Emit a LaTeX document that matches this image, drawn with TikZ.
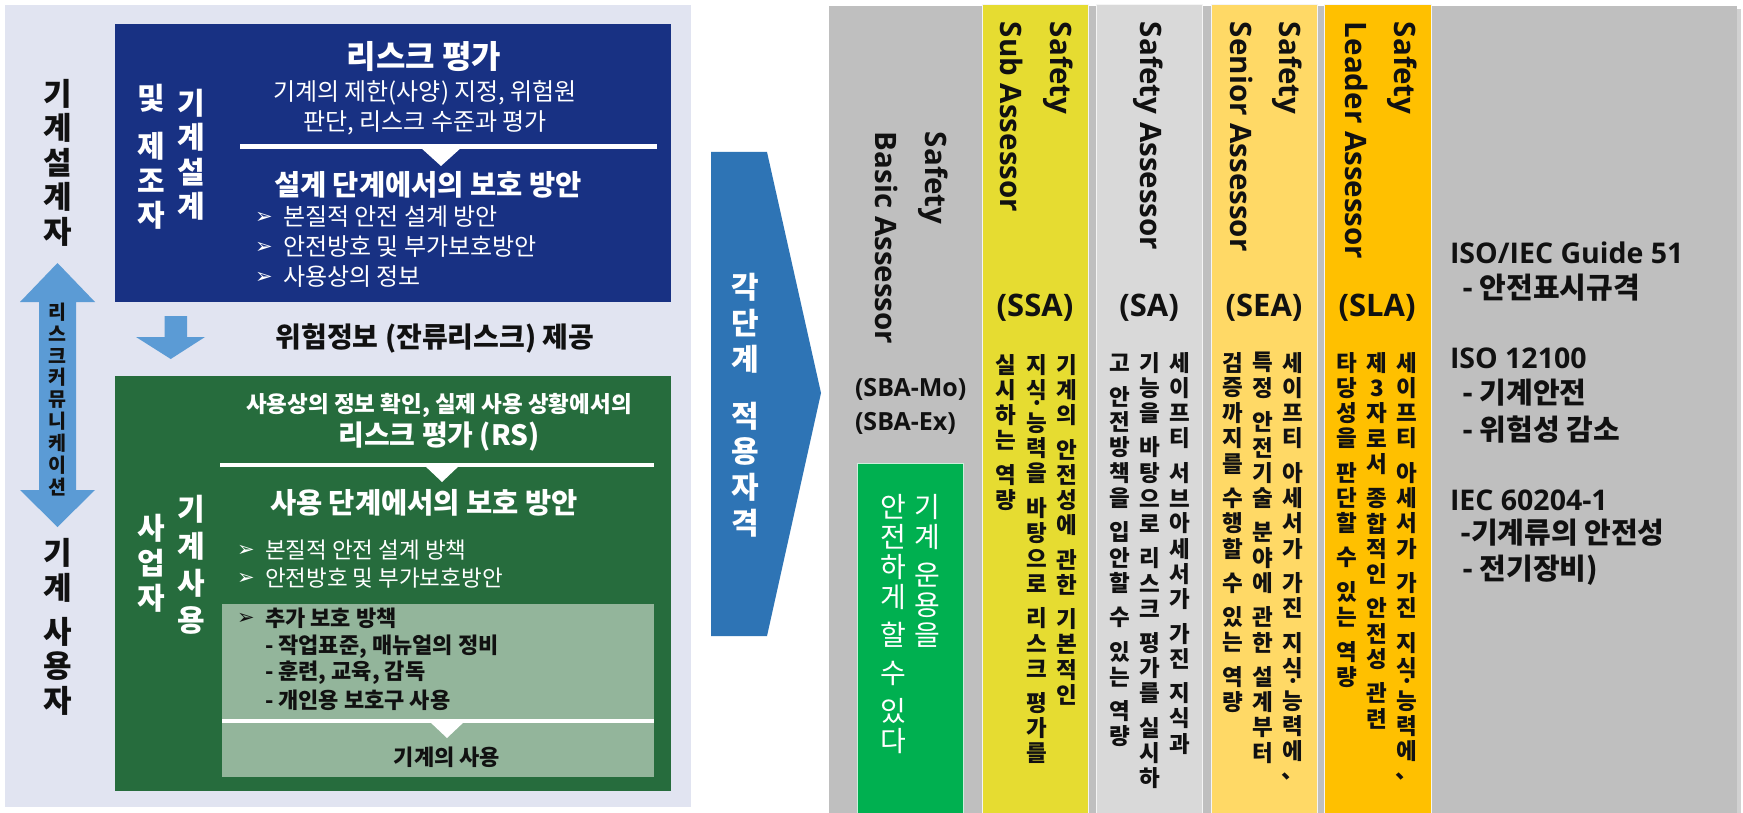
\documentclass[tikz,border=0pt]{standalone}
\usepackage{fontspec}
\setmainfont{Noto Sans CJK KR}
\newfontfamily\os{Open Sans}
\newfontfamily\dv{DejaVu Sans}
\newcommand\fs[1]{\fontsize{#1}{#1}\selectfont}
\definecolor{lav}{HTML}{E1E4F1}
\definecolor{navy}{HTML}{183183}
\definecolor{dgreen}{HTML}{266C3D}
\definecolor{lgreen}{HTML}{93B59B}
\definecolor{ablue}{HTML}{5B9BD5}
\definecolor{chev}{HTML}{2E74B5}
\definecolor{panel}{HTML}{BFBFBF}
\definecolor{cssa}{HTML}{E6DC31}
\definecolor{csa}{HTML}{D9D9D9}
\definecolor{csea}{HTML}{FFD966}
\definecolor{csla}{HTML}{FFC000}
\definecolor{csba}{HTML}{00B050}
\definecolor{ink}{HTML}{111111}
\ExplSyntaxOn
\NewDocumentCommand \vcol { m m m }
  {
    \vbox:n
      {
        \offinterlineskip
        \tl_map_inline:nn {#3}
          {
            \str_case:nnF {##1}
              {
                { | } { \skip_vertical:n {#2} }
                { · } { \hbox_to_wd:nn {1em} { \hss \vbox_to_ht:nn { #1 * 3 / 10 } { \vss \hbox:n {##1} \vss } \hss } }
              }
              { \hbox_to_wd:nn {1em} { \hss \vbox_to_ht:nn {#1} { \vss \hbox:n {##1} \vss } \hss } }
          }
      }
  }
\ExplSyntaxOff
\begin{document}
\begin{tikzpicture}[x=1pt,y=-1pt,
  rect/.style={inner sep=0, outer sep=0, anchor=north west},
  t/.style={inner sep=0, outer sep=0, text=ink},
  wt/.style={inner sep=0, outer sep=0, text=white},
  vt/.style={inner sep=0, outer sep=0, text=ink, rotate=-90, anchor=west, font=\os\bfseries\fs{29.5}},
  code/.style={inner sep=0, outer sep=0, text=ink, font=\os\bfseries\fs{31}},
  colx/.style={inner sep=0, outer sep=0, text=ink, anchor=north, font=\bfseries\fs{22.5}},
  bul/.style={inner sep=0, outer sep=0, font=\dv\fs{21}},
  std/.style={inner sep=0, outer sep=0, text=ink, anchor=west},
  column/.style={rect, draw=white!85!panel, line width=1pt, minimum width=106, minimum height=808}
]
\fill[white] (0,0) rectangle (1743,813);
\useasboundingbox (0,0) rectangle (1743,813);

% ---------- left panel ----------
\fill[lav] (5,5) rectangle (691,807);
\node[rect, fill=navy, minimum width=556, minimum height=278] (design) at (115,24) {};
\node[rect, fill=dgreen, minimum width=556, minimum height=415] (use) at (115,376) {};
\node[rect, fill=lgreen, minimum width=432, minimum height=173] (extra) at (222,604) {};

% separators
\draw[white, line width=5pt] (240,147) -- (657,147);
\fill[white] (420,147) -- (462,147) -- (441,166) -- cycle;
\draw[white, line width=4pt] (220,465) -- (654,465);
\fill[white] (424,465) -- (460,465) -- (442,482) -- cycle;
\draw[white, line width=4pt] (222,721) -- (654,721);
\fill[white] (429,721) -- (465,721) -- (447,738) -- cycle;

% small down arrow
\fill[ablue] (164.5,316) -- (187,316) -- (187,337) -- (205,337) -- (170.75,359) -- (136,337) -- (164.5,337) -- cycle;
% double arrow
\fill[ablue] (57.5,263) -- (95,302) -- (76,302) -- (76,490) -- (95,490) -- (57.5,527) -- (20,490) -- (39,490) -- (39,302) -- (20,302) -- cycle;

% design box text
\node[wt, font=\bfseries\fs{32}] (rtitle) at (424,57) {리스크 평가};
\node[wt, font=\fs{24}] (rl1) at (425,93) {기계의 제한(사양) 지정, 위험원};
\node[wt, font=\fs{24}] (rl2) at (425,123) {판단, 리스크 수준과 평가};
\node[wt, font=\bfseries\fs{28.5}] (dtitle) at (428,185) {설계 단계에서의 보호 방안};
\node[wt, bul] (b1) at (264,218) {➢};
\node[wt, bul] (b2) at (264,248) {➢};
\node[wt, bul] (b3) at (264,278) {➢};
\node[std, text=white, font=\fs{24}] (d1) at (283,217) {본질적 안전 설계 방안};
\node[std, text=white, font=\fs{24}] (d2) at (283,247) {안전방호 및 부가보호방안};
\node[std, text=white, font=\fs{24}] (d3) at (283,277) {사용상의 정보};
\node[wt, font=\bfseries\fs{30}] (dv1) at (191,155) {\vcol{34.5pt}{0pt}{기계설계}};
\node[wt, font=\bfseries\fs{30}] (dv2) at (151,157) {\vcol{34.5pt}{13pt}{및|제조자}};

\node[t, font=\bfseries\fs{28}] (info) at (435,338) {위험정보 (잔류리스크) 제공};

% use box text
\node[wt, font=\bfseries\fs{22.5}] (g1) at (439,405) {사용상의 정보 확인, 실제 사용 상황에서의};
\node[wt, font=\bfseries\fs{28}] (g2) at (439,437) {리스크 평가 (RS)};
\node[wt, font=\bfseries\fs{28.5}] (g3) at (424,503) {사용 단계에서의 보호 방안};
\node[wt, bul] (gb1) at (246,551) {➢};
\node[wt, bul] (gb2) at (246,579) {➢};
\node[std, text=white, font=\fs{22.5}] (u1) at (265,550) {본질적 안전 설계 방책};
\node[std, text=white, font=\fs{22.5}] (u2) at (265,578) {안전방호 및 부가보호방안};
\node[t, bul, text=ink] (gb3) at (246,619) {➢};
\node[std, font=\bfseries\fs{22}] (x1) at (265,618) {추가 보호 방책};
\node[std, font=\bfseries\fs{22}] (x2) at (265,647) {- 작업표준, 매뉴얼의 정비};
\node[std, font=\bfseries\fs{22}] (x3) at (265,673) {- 훈련, 교육, 감독};
\node[std, font=\bfseries\fs{22}] (x4) at (265,700) {- 개인용 보호구 사용};
\node[t, font=\bfseries\fs{22}] (x5) at (447,757) {기계의 사용};
\node[wt, font=\bfseries\fs{30}] (uv1) at (191,565) {\vcol{37pt}{0pt}{기계사용}};
\node[wt, font=\bfseries\fs{30}] (uv2) at (151,563) {\vcol{35pt}{0pt}{사업자}};

% far-left labels
\node[t, font=\bfseries\fs{31}] (lab1) at (58,162.5) {\vcol{34.5pt}{0pt}{기계설계자}};
\node[t, font=\bfseries\fs{31}] (lab2) at (58,627) {\vcol{34.5pt}{10pt}{기계|사용자}};
\node[t, font=\bfseries\fs{19.5}] (rc) at (57.5,399.5) {\vcol{21.9pt}{0pt}{리스크커뮤니케이션}};

% ---------- chevron ----------
\fill[chev] (711,152) -- (767,152) -- (821,393) -- (767,636) -- (711,636) -- cycle;
\node[wt, anchor=north, font=\bfseries\fs{30}] (cv) at (745,270) {\vcol{35.5pt}{22pt}{각단계|적용자격}};

% ---------- right panel ----------
\fill[black, opacity=0.18] (832,9) rectangle (1741,813);
\node[rect, fill=panel, minimum width=908, minimum height=807] (pnl) at (829,6) {};
\node[column, fill=cssa] (ssa) at (982,5) {};
\node[column, fill=csa] (sa) at (1096,5) {};
\node[column, fill=csea] (sea) at (1211,5) {};
\node[column, fill=csla, minimum width=107] (sla) at (1324,5) {};
\node[rect, fill=csba, draw=white!80!csba, line width=1pt, minimum width=106, minimum height=350] (sbag) at (857,463) {};

% SBA
\node[vt] (sbah1) at (933,132) {Safety};
\node[vt] (sbah2) at (887,132) {Basic Assessor};
\node[std, font=\os\bfseries\fs{25}] (sbam) at (855,389) {(SBA-Mo)};
\node[std, font=\os\bfseries\fs{25}] (sbae) at (855,423) {(SBA-Ex)};
\node[wt, anchor=north, font=\fs{28}] (sbat1) at (927,492) {\vcol{30pt}{8pt}{기계|운용을}};
\node[wt, anchor=north, font=\fs{28}] (sbat2) at (893,492) {\vcol{30pt}{8pt}{안전하게|할|수|있다}};

% SSA
\node[vt] (ssah1) at (1058,22) {Safety};
\node[vt] (ssah2) at (1012,22) {Sub Assessor};
\node[code] (ssac) at (1035,308) {(SSA)};
\node[colx] (ssa1) at (1067,352) {\vcol{25.3pt}{9pt}{기계의|안전성에|관한|기본적인}};
\node[colx] (ssa2) at (1037,352) {\vcol{25.3pt}{9pt}{지식·능력을|바탕으로|리스크|평가를}};
\node[colx] (ssa3) at (1006,352) {\vcol{25.3pt}{9pt}{실시하는|역량}};

% SA
\node[vt] (sah1) at (1148,22) {Safety Assessor};
\node[code] (sac) at (1149,308) {(SA)};
\node[colx] (sa1) at (1180,350) {\vcol{25.3pt}{9pt}{세이프티|서브아세서가|가진|지식과}};
\node[colx] (sa2) at (1150,350) {\vcol{25.3pt}{9pt}{기능을|바탕으로|리스크|평가를|실시하}};
\node[colx] (sa3) at (1120,350) {\vcol{25.3pt}{9pt}{고|안전방책을|입안할|수|있는|역량}};

% SEA
\node[vt] (seah1) at (1287,22) {Safety};
\node[vt] (seah2) at (1242,22) {Senior Assessor};
\node[code] (seac) at (1264,308) {(SEA)};
\node[colx] (sea1) at (1293,350) {\vcol{25.3pt}{9pt}{세이프티|아세서가|가진|지식·능력에、}};
\node[colx] (sea2) at (1263,350) {\vcol{25.3pt}{9pt}{특정|안전기술|분야에|관한|설계부터}};
\node[colx] (sea3) at (1233,350) {\vcol{25.3pt}{9pt}{검증까지를|수행할|수|있는|역량}};

% SLA
\node[vt] (slah1) at (1402,22) {Safety};
\node[vt] (slah2) at (1357,22) {Leader Assessor};
\node[code] (slac) at (1377,308) {(SLA)};
\node[colx] (sla1) at (1407,350) {\vcol{25.3pt}{9pt}{세이프티|아세서가|가진|지식·능력에、}};
\node[colx] (sla2) at (1377,350) {\vcol{25.3pt}{9pt}{제3자로서|종합적인|안전성|관련}};
\node[colx] (sla3) at (1347,350) {\vcol{25.3pt}{9pt}{타당성을|판단할|수|있는|역량}};

% standards
\node[std, font=\os\bfseries\fs{28.5}] (s1) at (1450,253) {ISO/IEC Guide 51};
\node[std, font=\bfseries\fs{29}] (s2) at (1462,288) {- 안전표시규격};
\node[std, font=\os\bfseries\fs{28.5}] (s3) at (1450,358) {ISO 12100};
\node[std, font=\bfseries\fs{29}] (s4) at (1462,393) {- 기계안전};
\node[std, font=\bfseries\fs{29}] (s5) at (1462,430) {- 위험성 감소};
\node[std, font=\os\bfseries\fs{28.5}] (s6) at (1450,500) {IEC 60204-1};
\node[std, font=\bfseries\fs{29}] (s7) at (1460,533) {-기계류의 안전성};
\node[std, font=\bfseries\fs{29}] (s8) at (1462,570) {- 전기장비)};
\end{tikzpicture}
\end{document}
